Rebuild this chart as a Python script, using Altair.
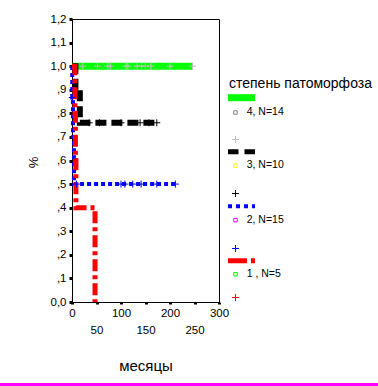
import altair as alt
import pandas as pd

# ---- data ----
group_labels = ["4, N=14", "3, N=10", "2, N=15", "1 , N=5"]
line_colors = ["#00FF00", "#000000", "#0000FF", "#FF0000"]
censor_colors = ["#C0C0C0", "#000000", "#0000FF", "#FF0000"]
square_colors = ["#808080", "#FFFF00", "#FF00FF", "#00FF00"]

times4 = [0, 246]
surv4 = [1.0, 1.0]
cens4_t = [22, 52, 73, 78, 110, 114, 133, 142, 150, 161, 200, 246]
cens4_s = [1.0] * 12

times3 = [0, 7, 16, 173]
surv3 = [1.0, 0.9, 0.76, 0.76]
cens3_t = [35, 56, 100, 139, 157, 173]
cens3_s = [0.76] * 6

times2 = [0, 0.5, 2, 4, 211]
surv2 = [1.0, 0.867, 0.7, 0.5, 0.5]
cens2_t = [0.5, 9, 100, 108, 124, 141, 173, 211]
cens2_s = [0.867, 0.5, 0.5, 0.5, 0.5, 0.5, 0.5, 0.5]

times1 = [0, 6, 7, 8, 47]
surv1 = [1.0, 0.8, 0.6, 0.4, 0.0]

x_ticks = [0, 50, 100, 150, 200, 250, 300]
y_ticks = [0, 0.1, 0.2, 0.3, 0.4, 0.5, 0.6, 0.7, 0.8, 0.9, 1.0, 1.1, 1.2]

FONT = "Liberation Sans"
W, H = 147, 283
PLUS = "M -1 0 L 1 0 M 0 -1 L 0 1"

xscale = alt.Scale(domain=[0, 300], nice=False, zero=False)
yscale = alt.Scale(domain=[0, 1.2], nice=False)

xaxis = alt.Axis(
    values=x_ticks, grid=False, title="месяцы",
    labelExpr="datum.value % 100 == 0 ? datum.label : [' ', datum.label]",
    labelLineHeight=17, labelFont=FONT, labelFontSize=11.5, labelColor="black",
    labelPadding=3, labelFlush=False, labelOverlap=False,
    tickSize=2, tickWidth=3, tickColor="black", domainColor="black", domainWidth=1,
    titleFont=FONT, titleFontSize=15, titleFontWeight="normal", titleColor="black",
    titleY=68, titleBaseline="alphabetic",
)
yaxis = alt.Axis(
    values=y_ticks, grid=False, title="%",
    labelExpr="datum.value < 0.05 ? '0,0' : (datum.value < 0.95 ? ',' + format(datum.value*10, '.0f') : '1,' + format(datum.value*10 - 10, '.0f'))",
    labelFont=FONT, labelFontSize=11.5, labelColor="black", labelPadding=3,
    labelFlush=False, labelOverlap=False,
    tickSize=3, tickWidth=3, tickColor="black", domainColor="black", domainWidth=1,
    titleFont=FONT, titleFontSize=13, titleFontWeight="normal", titleColor="black",
    titleX=-39, titleY=143, titleAngle=-90, titleBaseline="middle", titleAlign="center",
)

X = alt.X("t:Q", scale=xscale, axis=xaxis)
Y = alt.Y("s:Q", scale=yscale, axis=yaxis)

curves = [
    (times4, surv4, cens4_t, cens4_s, 7, None),
    (times3, surv3, cens3_t, cens3_s, 6, [11, 5]),
    (times2, surv2, cens2_t, cens2_s, 4, [4, 3]),
    (times1, surv1, [], [], 5, [12, 4, 4, 4]),
]

layers = []
for i, (tt, ss, ct, cs, sw, dash) in enumerate(curves):
    df = pd.DataFrame({"t": tt, "s": ss})
    kw = dict(interpolate="step-after", color=line_colors[i], strokeWidth=sw, strokeCap="butt")
    if dash:
        kw["strokeDash"] = dash
    layers.append(alt.Chart(df).mark_line(**kw).encode(x=X, y=Y))
for i, (tt, ss, ct, cs, sw, dash) in enumerate(curves):
    if ct:
        cdf = pd.DataFrame({"t": ct, "s": cs})
        layers.append(
            alt.Chart(cdf).mark_point(shape=PLUS, size=49, filled=False,
                                      color=censor_colors[i], strokeWidth=1, opacity=1)
            .encode(x=X, y=Y)
        )

one = pd.DataFrame({"a": [0]})

# legend (drawn to the right of the plot)
LX = 156
layers.append(alt.Chart(one).mark_text(text="степень патоморфоза", font=FONT, fontSize=14,
                                        align="left", baseline="alphabetic", color="black")
              .encode(x=alt.value(LX + 1), y=alt.value(69)))

leg_line_y = [78.7, 132.7, 187.3, 241.8]
leg_label_y = [93, 146, 200.7, 254.7]
leg_plus_y = [120.5, 174.5, 229.5, 278.5]
leg_sw = [7, 5, 4, 5]
leg_dash = [None, [10.5, 6], [4, 4], [19, 4, 4, 10]]
for i in range(4):
    kw = dict(color=line_colors[i], strokeWidth=leg_sw[i], strokeCap="butt")
    if leg_dash[i]:
        kw["strokeDash"] = leg_dash[i]
    layers.append(alt.Chart(one).mark_rule(**kw).encode(
        x=alt.value(LX), x2=alt.value(LX + 27), y=alt.value(leg_line_y[i])))
    layers.append(alt.Chart(one).mark_point(shape="square", size=12, filled=False,
                                            color=square_colors[i], strokeWidth=1, opacity=1)
                  .encode(x=alt.value(LX + 7.5), y=alt.value(leg_label_y[i] + 0.5)))
    layers.append(alt.Chart(one).mark_text(text=group_labels[i], font=FONT, fontSize=10.5,
                                           align="left", baseline="middle", color="black")
                  .encode(x=alt.value(LX + 18.7), y=alt.value(leg_label_y[i])))
    layers.append(alt.Chart(one).mark_point(shape=PLUS, size=49, filled=False,
                                            color=censor_colors[i], strokeWidth=1, opacity=1)
                  .encode(x=alt.value(LX + 7.5), y=alt.value(leg_plus_y[i])))

# magenta bottom line
layers.append(alt.Chart(one).mark_rule(color="#FF00FF", strokeWidth=3).encode(
    x=alt.value(-72), x2=alt.value(306), y=alt.value(365.5)))

chart = alt.layer(*layers).properties(
    width=W, height=H,
    autosize=alt.AutoSizeParams(type="none"),
    padding={"left": 72, "top": 19, "right": 378 - 72 - W, "bottom": 386 - 19 - H},
    background="white",
).configure_view(stroke="black", strokeWidth=1)

chart.save("out.html", embed_options={"renderer": "svg", "actions": False})
